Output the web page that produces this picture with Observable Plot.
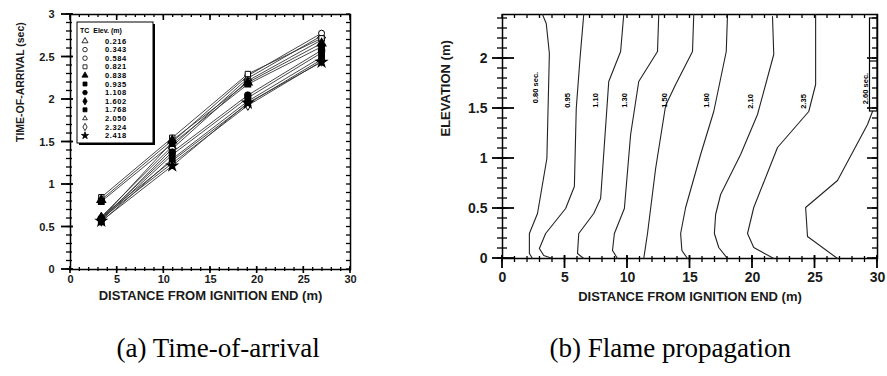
<!DOCTYPE html>
<html><head><meta charset="utf-8">
<script src="https://cdn.jsdelivr.net/npm/d3@7"></script>
<script src="https://cdn.jsdelivr.net/npm/@observablehq/plot@0.6"></script>
<style>
body{margin:0;background:#fff;}
#wrap{position:relative;width:887px;height:376px;overflow:hidden;background:#fff;}
#wrap > div.p{position:absolute;top:0;}
.cap{position:absolute;font-family:"Liberation Serif","Times New Roman",serif;font-size:27px;color:#000;white-space:nowrap;}
</style></head><body><div id="wrap">
<div class="p" id="pa" style="left:0px"></div>
<div class="p" id="pb" style="left:420px"></div>
</div>
<script>
// ---------- Panel (a): time-of-arrival ----------
const distA = [3.3, 10.9, 19.0, 26.9];
const tcElev = ["0.216","0.343","0.584","0.821","0.838","0.935","1.108","1.602","1.768","2.050","2.324","2.418"];
const toa0216 = [0.62, 1.45, 2.25, 2.75];
const toa0343 = [0.60, 1.50, 2.28, 2.78];
const toa0584 = [0.58, 1.42, 2.22, 2.70];
const toa0821 = [0.85, 1.55, 2.30, 2.72];
const toa0838 = [0.82, 1.52, 2.20, 2.66];
const toa0935 = [0.80, 1.48, 2.18, 2.62];
const toa1108 = [0.60, 1.38, 2.05, 2.58];
const toa1602 = [0.58, 1.35, 2.02, 2.55];
const toa1768 = [0.56, 1.30, 1.98, 2.50];
const toa2050 = [0.62, 1.28, 1.95, 2.47];
const toa2324 = [0.60, 1.25, 1.93, 2.45];
const toa2418 = [0.57, 1.22, 1.96, 2.44];
const toaSeries = [toa0216,toa0343,toa0584,toa0821,toa0838,toa0935,toa1108,toa1602,toa1768,toa2050,toa2324,toa2418];
const symA = ["triangle","circle","circle","square","triangle","square","circle","diamond","square","triangle2","diamond","star"];
const filledA = [false,false,false,false,true,true,true,true,true,false,false,true];
const legendTitleA = "TC  Elev. (m)";
const xLabelA = "DISTANCE FROM IGNITION END (m)";
const yLabelA = "TIME-OF-ARRIVAL (sec)";
const xTicksA = [0,5,10,15,20,25,30];
const yTicksA = [0,0.5,1,1.5,2,2.5,3];
const xMinorA = d3.range(0, 30.01, 1);
const yMinorA = d3.range(0, 3.001, 0.1);

// ---------- Panel (b): flame propagation ----------
const contourTimes = ["0.80 sec.","0.95","1.10","1.30","1.50","1.80","2.10","2.35","2.60 sec."];
const c080 = [[2.4,0],[2.15,0.05],[2.15,0.25],[2.8,0.45],[3.55,1.0],[3.75,2.05],[3.5,2.35],[3.2,2.44]];
const c095 = [[4.0,0],[3.3,0.03],[2.95,0.1],[3.45,0.25],[5.05,0.5],[5.75,0.72],[5.9,1.5],[6.2,2.0],[6.5,2.44]];
const c110 = [[6.5,0],[6.0,0.05],[6.1,0.25],[7.3,0.45],[7.85,0.6],[8.5,1.77],[9.45,2.07],[9.7,2.44]];
const c130 = [[9.2,0],[8.8,0.08],[8.95,0.25],[9.75,0.5],[10.25,1.24],[10.9,1.77],[12.4,2.07],[12.5,2.44]];
const c150 = [[11.3,0],[11.6,0.25],[12.25,0.9],[13.05,1.53],[13.85,1.74],[15.2,2.07],[15.3,2.44]];
const c180 = [[14.8,0],[14.35,0.08],[14.25,0.25],[14.65,0.51],[15.85,1.04],[16.9,1.47],[17.9,2.07],[18.0,2.44]];
const c210 = [[18.0,0],[17.3,0.11],[16.95,0.25],[17.05,0.44],[17.45,0.64],[19.05,1.04],[20.4,1.44],[21.7,2.04],[21.6,2.42]];
const c235 = [[21.7,0],[20.1,0.11],[19.6,0.25],[20.1,0.51],[22.0,1.11],[24.5,1.47],[25.05,1.74],[25.05,2.44]];
const c260 = [[26.8,0],[24.4,0.22],[24.25,0.51],[26.8,0.78],[29.2,1.34],[29.6,1.47]];
const contours = [c080,c095,c110,c130,c150,c180,c210,c235,c260];
const labelX = [2.66, 5.2, 7.46, 9.78, 12.98, 16.34, 19.86, 24.06, 29.06];
const labelY = [1.71, 1.58, 1.58, 1.58, 1.58, 1.58, 1.57, 1.57, 1.70];
const boxB = {x1: 29.4, x2: 30, y1: 1.47, y2: 2.40, ymid: 1.97};
const xLabelB = "DISTANCE FROM IGNITION END (m)";
const yLabelB = "ELEVATION (m)";
const xTicksB = [0,5,10,15,20,25,30];
const yTicksB = [0,0.5,1,1.5,2];
const xMinorB = d3.range(0, 30.01, 1);
const yMinorB = d3.range(0, 2.44, 0.1);

const captionA = "(a) Time-of-arrival";
const captionB = "(b) Flame propagation";

// ---------- build tables ----------
const dataA = [];
toaSeries.forEach((s, i) => s.forEach((v, j) => dataA.push({elev: tcElev[i], x: distA[j], y: v, filled: filledA[i]})));
const dataB = [];
contours.forEach((c, i) => c.forEach(p => dataB.push({t: contourTimes[i], x: p[0], y: p[1]})));
const labelsB = contourTimes.map((t, i) => ({t, x: labelX[i], y: labelY[i]}));

const font = "'Liberation Sans', Arial, Helvetica, sans-serif";
const ink = "#000";
const fmt = d3.format("~g");

const plotA = Plot.plot({
  width: 360, height: 310,
  marginLeft: 70, marginRight: 10, marginTop: 14, marginBottom: 41,
  x: {domain: [0, 30]},
  y: {domain: [0, 3]},
  symbol: {domain: tcElev, range: symA},
  style: {fontFamily: font, fontWeight: "bold", color: "#1a1a1a", background: "white"},
  marks: [
    Plot.axisX({ticks: xTicksA, tickSize: 0, tickPadding: 6, tickFormat: fmt, fontSize: 11, label: null}),
    Plot.axisY({ticks: yTicksA, tickSize: 0, tickPadding: 16, tickFormat: fmt, fontSize: 11, label: null}),
    Plot.frame({stroke: ink, strokeWidth: 1.5}),
    Plot.line(dataA, {x: "x", y: "y", z: "elev", stroke: "#333", strokeWidth: 0.9}),
    Plot.dot(dataA.filter(d => !d.filled), {x: "x", y: "y", symbol: "elev", r: 3, fill: "white", stroke: ink, strokeWidth: 1}),
    Plot.dot(dataA.filter(d => d.filled), {x: "x", y: "y", symbol: "elev", r: 3, fill: ink, stroke: ink}),
    Plot.text([xLabelA], {frameAnchor: "bottom", dy: 30, text: d => d, fontSize: 13, fontWeight: "bold", ariaLabel: "xlab"}),
    Plot.text([yLabelA], {frameAnchor: "left", dx: -50, rotate: -90, text: d => d, fontSize: 10.5, fontWeight: "bold", ariaLabel: "ylab"})
  ]
});
document.getElementById("pa").appendChild(plotA);

const plotB = Plot.plot({
  width: 467, height: 315,
  marginLeft: 82, marginRight: 10, marginTop: 14, marginBottom: 57,
  x: {domain: [0, 30]},
  y: {domain: [0, 2.44]},
  style: {fontFamily: font, fontWeight: "bold", color: "#1a1a1a", background: "white"},
  marks: [
    Plot.axisX({ticks: xTicksB, tickSize: 0, tickPadding: 14, tickFormat: fmt, fontSize: 14, label: null}),
    Plot.axisY({ticks: yTicksB, tickSize: 0, tickPadding: 15, tickFormat: fmt, fontSize: 14, label: null}),
    Plot.frame({stroke: ink, strokeWidth: 1.5}),
    Plot.line(dataB, {x: "x", y: "y", z: "t", stroke: "#222", strokeWidth: 1.1}),
    Plot.text(labelsB, {x: "x", y: "y", text: "t", rotate: -90, fontSize: 7.5, fontWeight: "bold", fill: ink}),
    Plot.text([xLabelB], {frameAnchor: "bottom", dy: 42, text: d => d, fontSize: 13, fontWeight: "bold", ariaLabel: "xlab"}),
    Plot.text([yLabelB], {frameAnchor: "left", dx: -57, rotate: -90, text: d => d, fontSize: 13, fontWeight: "bold", ariaLabel: "ylab"})
  ]
});
document.getElementById("pb").appendChild(plotB);

d3.selectAll('g[aria-label="xlab"] text').style("letter-spacing", "1.6px");

// ---------- tick marks: overlay SVG positioned over each panel, using the plots' own scales ----------
function scalesOf(plot) {
  const sx = plot.scale("x"), sy = plot.scale("y");
  return {
    x: d3.scaleLinear().domain(sx.domain).range(sx.range),
    y: d3.scaleLinear().domain(sy.domain).range(sy.range)
  };
}
function overlay(left, w, h) {
  return d3.select("#wrap").append("svg")
    .attr("width", w).attr("height", h)
    .style("position", "absolute").style("left", left + "px").style("top", "0px")
    .style("pointer-events", "none");
}
// spec: side, values, outward px, inward px, stroke width
function drawTicks(svg, plot, specs) {
  const {x, y} = scalesOf(plot);
  const [x0, x1] = x.range(), [y0, y1] = y.range();
  specs.forEach(([side, vals, out, inn, sw]) => {
    vals.forEach(v => {
      let a;
      if (side === "left") a = [x0 - out, y(v), x0 + inn, y(v)];
      else if (side === "right") a = [x1 + out, y(v), x1 - inn, y(v)];
      else if (side === "bottom") a = [x(v), y0 + out, x(v), y0 - inn];
      else a = [x(v), y1 - out, x(v), y1 + inn];
      svg.append("line").attr("x1", a[0]).attr("y1", a[1]).attr("x2", a[2]).attr("y2", a[3])
        .attr("stroke", ink).attr("stroke-width", sw);
    });
  });
  return {x, y};
}
const ovA = overlay(0, 360, 310);
drawTicks(ovA, plotA, [
  ["bottom", xMinorA, 2, 2, 1.3], ["bottom", xTicksA, 4, 3, 1.6],
  ["top", xMinorA, 0, 3, 1.3], ["top", xTicksA, 0, 6, 1.6],
  ["left", yMinorA, 4, 2, 1.3], ["left", yTicksA, 9, 3, 1.8],
  ["right", yMinorA, 0, 4, 1.3]
]);
const ovB = overlay(420, 467, 315);
const sb = drawTicks(ovB, plotB, [
  ["bottom", xMinorB, 4, 2, 1.3], ["bottom", xTicksB, 10, 3, 1.8],
  ["top", xMinorB, 0, 4, 1.3],
  ["left", yMinorB, 5, 5, 1.3], ["left", yTicksB, 10, 12, 1.8],
  ["right", yMinorB, 0, 5, 1.3], ["right", yTicksB, 0, 10, 1.6]
]);
ovB.append("rect")
  .attr("x", sb.x(boxB.x1)).attr("y", sb.y(boxB.y2))
  .attr("width", sb.x(boxB.x2) - sb.x(boxB.x1)).attr("height", sb.y(boxB.y1) - sb.y(boxB.y2))
  .attr("fill", "none").attr("stroke", ink).attr("stroke-width", 1.2);
ovB.append("line")
  .attr("x1", sb.x(boxB.x1)).attr("x2", sb.x(boxB.x2)).attr("y1", sb.y(boxB.ymid)).attr("y2", sb.y(boxB.ymid))
  .attr("stroke", ink).attr("stroke-width", 1.2);

// ---------- inset legend for panel (a) ----------
const symMap = {circle: d3.symbolCircle, square: d3.symbolSquare, triangle: d3.symbolTriangle, diamond: d3.symbolDiamond, star: d3.symbolStar, triangle2: d3.symbolTriangle2};
const leg = d3.select("#wrap").append("svg")
  .attr("width", 90).attr("height", 130)
  .style("position", "absolute").style("left", "75px").style("top", "20px");
leg.append("rect").attr("x", 4).attr("y", 4).attr("width", 76).attr("height", 121).attr("fill", ink);
leg.append("rect").attr("x", 2).attr("y", 2).attr("width", 76).attr("height", 121).attr("fill", "white").attr("stroke", ink).attr("stroke-width", 1);
leg.append("text").attr("x", 5).attr("y", 13).text(legendTitleA)
  .attr("font-family", font).attr("font-weight", "bold").attr("font-size", 7).attr("fill", ink).attr("xml:space", "preserve");
tcElev.forEach((e, i) => {
  const y = 21 + i * 8.6;
  leg.append("path").attr("d", d3.symbol(symMap[symA[i]], 16)())
    .attr("transform", `translate(10,${y})`)
    .attr("fill", filledA[i] ? ink : "white").attr("stroke", ink).attr("stroke-width", 0.8);
  leg.append("text").attr("x", 30).attr("y", y + 2.5).text(e)
    .attr("font-family", font).attr("font-weight", "bold").attr("font-size", 7.5).attr("fill", ink)
    .style("letter-spacing", "0.6px");
});

// ---------- captions ----------
const wrap = document.getElementById("wrap");
function cap(t, cx) {
  const d = document.createElement("div");
  d.className = "cap"; d.textContent = t; wrap.appendChild(d);
  d.style.top = "333px";
  d.style.left = (cx - d.offsetWidth / 2) + "px";
}
cap(captionA, 218);
cap(captionB, 670);
</script>
</body></html>
